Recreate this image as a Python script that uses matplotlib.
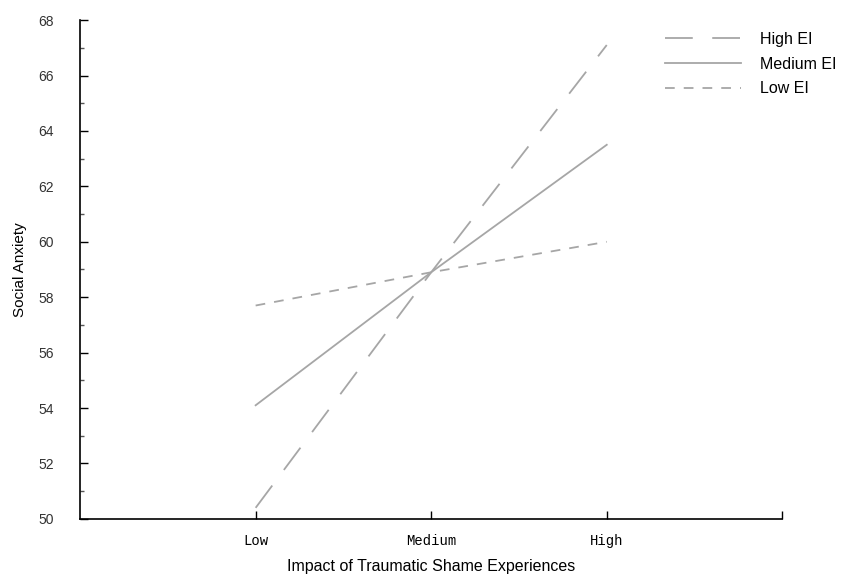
import matplotlib
matplotlib.use("Agg")
import matplotlib.pyplot as plt
from matplotlib.ticker import MultipleLocator

# simple slopes: social anxiety at three levels of traumatic shame impact
levels = ["Low", "Medium", "High"]
x_pos = [0, 1, 2]
high_ei = [50.4, 58.9, 67.1]
medium_ei = [54.1, 58.9, 63.5]
low_ei = [57.7, 58.9, 60.0]

plt.rcParams["lines.scale_dashes"] = False
plt.rcParams["font.family"] = "Liberation Sans"

fig = plt.figure(figsize=(8.43, 5.74), dpi=100)
ax = fig.add_axes([0.095, 0.096, 0.833, 0.869])

grey = "#a6a6a6"
ax.plot(x_pos, high_ei, color=grey, lw=1.3, dashes=(20, 14), label="High EI")
ax.plot(x_pos, medium_ei, color=grey, lw=1.3, label="Medium EI")
ax.plot(x_pos, low_ei, color=grey, lw=1.3, dashes=(7, 6.5), label="Low EI")

ax.set_xlim(-1, 3)
ax.set_ylim(50, 68)
ax.set_xticks([0, 1, 2, 3])
ax.set_xticklabels(levels + [""], family="Liberation Mono", fontsize=10)
ax.yaxis.set_major_locator(MultipleLocator(2))
ax.yaxis.set_minor_locator(MultipleLocator(1))
ax.tick_params(axis="both", which="major", direction="in", length=6, width=1, color="black")
ax.tick_params(axis="y", which="minor", direction="in", length=3, width=1, color="#555555")
ax.tick_params(axis="x", pad=11)
ax.tick_params(axis="y", pad=19, labelsize=10, labelcolor="#333333")

for side in ["top", "right"]:
    ax.spines[side].set_visible(False)
for side in ["left", "bottom"]:
    ax.spines[side].set_linewidth(1.2)

ax.set_xlabel("Impact of Traumatic Shame Experiences", fontsize=11.5, labelpad=8)
ax.set_ylabel("Social Anxiety", fontsize=11, labelpad=8)

ax.legend(loc="upper left", bbox_to_anchor=(0.812, 1.005), frameon=False,
          fontsize=11.5, handlelength=4.8, handletextpad=1.2, labelspacing=0.6)

fig.savefig("out.png", dpi=100)
